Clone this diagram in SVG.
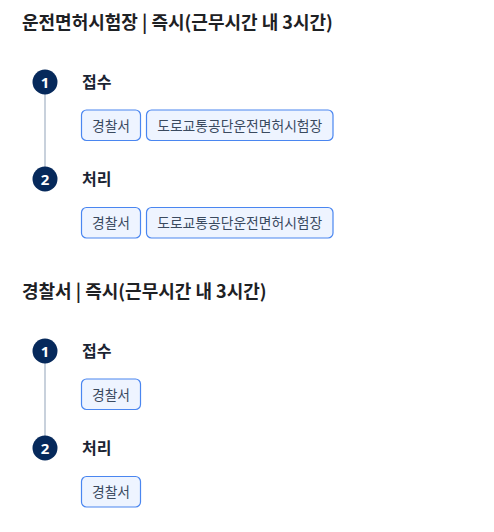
<svg xmlns="http://www.w3.org/2000/svg" width="494" height="532" viewBox="0 0 494 532">
<style>
.hdr{font-family:"Noto Sans CJK KR","Noto Sans",sans-serif;font-size:18px;font-weight:700;fill:#1e2124}
.step{font-family:"Noto Sans CJK KR","Noto Sans",sans-serif;font-size:16px;font-weight:700;fill:#1b2433}
.num{font-family:"Noto Sans","Noto Sans CJK KR",sans-serif;font-size:15px;font-weight:700;fill:#ffffff;text-anchor:middle}
.circ{fill:#06295b}
.tag rect{fill:#eef4ff;stroke:#4a86f0;stroke-width:1.2}
.tag text{font-family:"Noto Sans CJK KR","Noto Sans",sans-serif;font-size:13.8px;fill:#3a4a5f;text-anchor:middle}
.line{stroke:#c8d1dc;stroke-width:2}
</style>
<rect width="494" height="532" fill="#ffffff"/>
<g id="connectors">
<line class="line" x1="45" y1="94" x2="45" y2="167"/>
<line class="line" x1="45" y1="363" x2="45" y2="436"/>
</g>
<g id="section1">
<text class="hdr" x="22" y="28.5">운전면허시험장 | 즉시(근무시간 내 3시간)</text>
<g id="s1-step1">
<circle class="circ" cx="45" cy="82" r="12.5"/>
<text class="num" x="45" y="87.5">1</text>
<text class="step" x="82" y="88">접수</text>
</g>
<g id="s1-step1-tag1" class="tag"><rect x="81.5" y="110" width="59" height="30.5" rx="5"/><text x="111" y="130.5">경찰서</text></g>
<g id="s1-step1-tag2" class="tag"><rect x="146.5" y="110" width="186.5" height="30.5" rx="5"/><text x="239.75" y="130.5">도로교통공단운전면허시험장</text></g>
<g id="s1-step2">
<circle class="circ" cx="45" cy="179" r="12.5"/>
<text class="num" x="45" y="184.5">2</text>
<text class="step" x="82" y="185">처리</text>
</g>
<g id="s1-step2-tag1" class="tag"><rect x="81.5" y="207.5" width="59" height="30.5" rx="5"/><text x="111" y="228">경찰서</text></g>
<g id="s1-step2-tag2" class="tag"><rect x="146.5" y="207.5" width="186.5" height="30.5" rx="5"/><text x="239.75" y="228">도로교통공단운전면허시험장</text></g>
</g>
<g id="section2">
<text class="hdr" x="22" y="297.5">경찰서 | 즉시(근무시간 내 3시간)</text>
<g id="s2-step1">
<circle class="circ" cx="45" cy="351" r="12.5"/>
<text class="num" x="45" y="356.5">1</text>
<text class="step" x="82" y="357">접수</text>
</g>
<g id="s2-step1-tag1" class="tag"><rect x="81.5" y="379" width="59" height="30.5" rx="5"/><text x="111" y="399.5">경찰서</text></g>
<g id="s2-step2">
<circle class="circ" cx="45" cy="448" r="12.5"/>
<text class="num" x="45" y="453.5">2</text>
<text class="step" x="82" y="454">처리</text>
</g>
<g id="s2-step2-tag1" class="tag"><rect x="81.5" y="476.5" width="59" height="30.5" rx="5"/><text x="111" y="497">경찰서</text></g>
</g>
</svg>
